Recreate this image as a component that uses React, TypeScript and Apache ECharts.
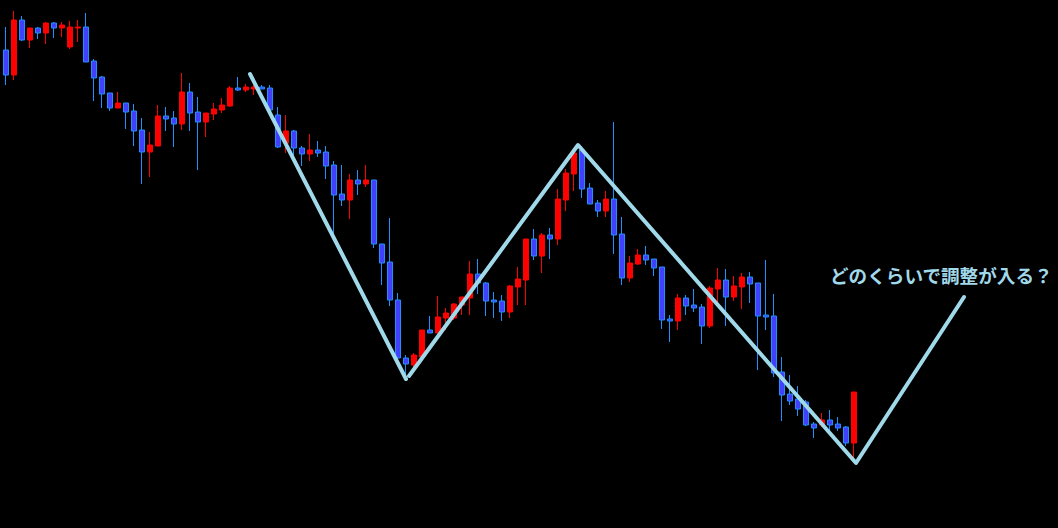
import React, { useEffect, useRef } from "react";
import * as echarts from "echarts";

// Candles (price units), red = up, blue = down
const opens = [478, 453, 508, 488, 500, 495, 505, 500, 481, 500, 501, 467, 451, 435, 420, 425, 417, 398, 376, 382, 412, 410, 404, 436, 416, 406, 414, 418, 422, 440, 438, 439, 441, 440, 413, 385, 397, 380, 374, 378, 376, 363, 334, 328, 348, 344, 348, 284, 266, 228, 170, 163, 171, 198, 195, 210, 210, 223, 230, 254, 245, 228, 227, 216, 241, 248, 289, 272, 293, 289, 328, 354, 378, 340, 325, 317, 329, 294, 250, 264, 273, 269, 261, 209, 207, 230, 223, 221, 202, 239, 248, 231, 241, 251, 245, 213, 212, 156, 134, 129, 126, 104, 103, 108, 104, 101, 85];
const closes = [453, 508, 488, 500, 495, 505, 500, 503, 501, 501, 466, 450, 434, 420, 425, 416, 397, 376, 383, 412, 409, 404, 436, 415, 406, 415, 419, 423, 440, 438, 441, 441, 439, 418, 381, 397, 380, 374, 378, 375, 362, 333, 328, 348, 344, 348, 284, 265, 228, 170, 164, 173, 198, 195, 211, 215, 224, 231, 254, 245, 227, 226, 216, 242, 249, 289, 272, 293, 289, 329, 355, 375, 339, 324, 317, 329, 293, 250, 265, 273, 268, 260, 208, 207, 230, 222, 220, 202, 240, 248, 231, 242, 251, 244, 212, 211, 155, 133, 127, 119, 103, 100, 108, 103, 100, 85, 136];
const lows = [443, 448, 487, 480, 489, 484, 490, 491, 479, 486, 466, 427, 420, 417, 420, 399, 382, 344, 351, 382, 397, 381, 398, 397, 358, 391, 408, 415, 421, 437, 436, 433, 439, 416, 380, 375, 371, 362, 367, 371, 349, 293, 322, 309, 333, 341, 280, 243, 222, 166, 151, 156, 168, 195, 195, 198, 208, 213, 213, 234, 212, 210, 207, 210, 223, 223, 268, 255, 269, 283, 317, 337, 330, 324, 311, 311, 274, 243, 246, 263, 263, 252, 199, 186, 198, 213, 216, 184, 200, 226, 202, 227, 219, 225, 158, 198, 151, 107, 123, 112, 102, 90, 101, 97, 97, 82, 70];
const highs = [501, 517, 512, 500, 501, 506, 506, 506, 507, 508, 515, 469, 452, 435, 436, 425, 424, 410, 396, 423, 421, 417, 455, 445, 431, 415, 425, 430, 442, 451, 444, 443, 443, 443, 421, 413, 398, 382, 394, 387, 382, 367, 363, 354, 358, 363, 348, 284, 310, 235, 173, 175, 198, 212, 232, 220, 225, 231, 267, 269, 246, 236, 233, 243, 261, 289, 299, 295, 300, 339, 359, 380, 382, 345, 328, 337, 406, 311, 272, 279, 282, 269, 261, 213, 234, 233, 239, 224, 242, 260, 259, 252, 255, 256, 245, 268, 234, 171, 153, 142, 128, 106, 115, 118, 111, 102, 136];

// Zigzag annotation (x in candle index units, y in price units)
const zigzagA = [[30.5, 454], [50, 149]];
const zigzagB = [[50.375, 152], [71.5, 383], [106.25, 65], [119.75, 231]];

const categoryCount = 132;
const categories = Array.from({ length: categoryCount }, (_, i) => String(i + 1));
const annotationText = "どのくらいで調整が入る？";

export default function App() {
  const ref = useRef<HTMLDivElement>(null);
  useEffect(() => {
    document.body.style.margin = "0";
    document.body.style.background = "#000";
    const chart = echarts.init(ref.current!, null, { renderer: "svg" });
    const candles = opens.map((o, i) => [o, closes[i], lows[i], highs[i]]);
    const lineColor = "#a0d9ea";
    chart.setOption({
      animation: false,
      backgroundColor: "#000000",
      grid: { left: 2, right: 0, top: 0, bottom: 0 },
      xAxis: [
        {
          type: "category",
          data: categories,
          boundaryGap: true,
          show: false,
        },
        {
          type: "value",
          min: -0.5,
          max: categoryCount - 0.5,
          show: false,
        },
      ],
      yAxis: {
        type: "value",
        min: 0,
        max: 528,
        show: false,
        splitLine: { show: false },
      },
      series: [
        {
          type: "candlestick",
          data: candles,
          barWidth: 5,
          itemStyle: {
            color: "#ff0000",
            borderColor: "#ff0000",
            color0: "#4040ff",
            borderColor0: "#1e90ff",
            borderWidth: 1,
          },
        },
        {
          type: "line",
          xAxisIndex: 1,
          data: zigzagA,
          symbol: "none",
          lineStyle: { color: lineColor, width: 4, cap: "round", join: "round" },
          z: 5,
        },
        {
          type: "line",
          xAxisIndex: 1,
          data: zigzagB,
          symbol: "none",
          lineStyle: { color: lineColor, width: 4, cap: "round", join: "round" },
          z: 5,
        },
      ],
      graphic: [
        {
          type: "text",
          x: 830,
          y: 274,
          style: {
            text: annotationText,
            fill: lineColor,
            font: 'bold 18.6px "Noto Sans CJK JP"',
            verticalAlign: "middle",
            align: "left",
          },
          z: 10,
        },
      ],
    });
    return () => chart.dispose();
  }, []);
  return (
    <div
      ref={ref}
      style={{ position: "absolute", left: 0, top: 0, width: 1058, height: 528, background: "#000" }}
    />
  );
}
